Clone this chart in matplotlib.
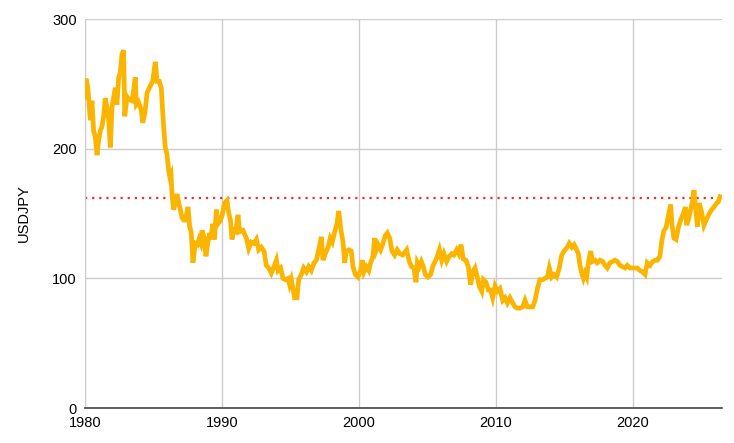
import matplotlib
matplotlib.use("Agg")
import matplotlib.pyplot as plt

# USDJPY (decimal year, rate)
years = [
    1980.0, 1980.07, 1980.2, 1980.39, 1980.51, 1980.63, 1980.75, 1980.88, 1981.0,
    1981.12, 1981.24, 1981.36, 1981.48, 1981.6, 1981.73, 1981.85, 1981.97, 1982.1,
    1982.21, 1982.33, 1982.46, 1982.58, 1982.7, 1982.82, 1982.9, 1983.07, 1983.2,
    1983.43, 1983.55, 1983.67, 1983.75, 1983.9, 1984.11, 1984.21, 1984.38, 1984.53,
    1984.7, 1984.94, 1985.13, 1985.26, 1985.42, 1985.57, 1985.65, 1985.74, 1985.86,
    1985.98, 1986.11, 1986.2, 1986.28, 1986.35, 1986.47, 1986.58, 1986.72, 1986.84,
    1986.96, 1987.08, 1987.2, 1987.32, 1987.52, 1987.64, 1987.76, 1987.88, 1988.05,
    1988.2, 1988.32, 1988.44, 1988.54, 1988.68, 1988.83, 1988.96, 1989.1, 1989.2,
    1989.32, 1989.45, 1989.59, 1989.7, 1989.85, 1990.0, 1990.18, 1990.36, 1990.5,
    1990.62, 1990.73, 1990.85, 1991.0, 1991.17, 1991.29, 1991.53, 1991.78, 1991.95,
    1992.14, 1992.34, 1992.51, 1992.68, 1992.87, 1993.07, 1993.23, 1993.41, 1993.6,
    1993.8, 1993.97, 1994.09, 1994.28, 1994.45, 1994.62, 1994.82, 1994.94, 1995.06,
    1995.18, 1995.3, 1995.47, 1995.6, 1995.79, 1995.96, 1996.16, 1996.33, 1996.52,
    1996.72, 1996.89, 1997.06, 1997.25, 1997.37, 1997.54, 1997.74, 1997.9, 1998.05,
    1998.23, 1998.39, 1998.52, 1998.66, 1998.83, 1998.96, 1999.07, 1999.27, 1999.44,
    1999.56, 1999.73, 1999.93, 2000.12, 2000.24, 2000.36, 2000.53, 2000.71, 2000.85,
    2001.02, 2001.14, 2001.26, 2001.39, 2001.58, 2001.75, 2001.92, 2002.07, 2002.24,
    2002.41, 2002.6, 2002.79, 2002.97, 2003.19, 2003.48, 2003.67, 2003.84, 2004.01,
    2004.16, 2004.26, 2004.4, 2004.55, 2004.7, 2004.84, 2005.04, 2005.23, 2005.38,
    2005.55, 2005.72, 2005.87, 2006.04, 2006.2, 2006.4, 2006.59, 2006.77, 2006.93,
    2007.13, 2007.28, 2007.45, 2007.61, 2007.81, 2007.98, 2008.15, 2008.3, 2008.47,
    2008.64, 2008.78, 2008.96, 2009.08, 2009.27, 2009.44, 2009.61, 2009.76, 2009.93,
    2010.1, 2010.29, 2010.49, 2010.66, 2010.83, 2011.02, 2011.22, 2011.39, 2011.56,
    2011.75, 2011.95, 2012.12, 2012.29, 2012.48, 2012.68, 2012.85, 2013.02, 2013.21,
    2013.41, 2013.58, 2013.75, 2013.89, 2014.06, 2014.23, 2014.43, 2014.62, 2014.8,
    2014.96, 2015.2, 2015.35, 2015.53, 2015.7, 2015.89, 2016.01, 2016.13, 2016.26,
    2016.38, 2016.5, 2016.62, 2016.74, 2016.91, 2017.05, 2017.23, 2017.39, 2017.59,
    2017.79, 2017.96, 2018.12, 2018.32, 2018.52, 2018.69, 2018.85, 2019.05, 2019.24,
    2019.42, 2019.58, 2019.78, 2019.98, 2020.15, 2020.31, 2020.51, 2020.7, 2020.88,
    2021.04, 2021.24, 2021.44, 2021.61, 2021.78, 2021.97, 2022.09, 2022.26, 2022.41,
    2022.58, 2022.75, 2022.85, 2022.99, 2023.14, 2023.31, 2023.48, 2023.68, 2023.82,
    2023.92, 2024.07, 2024.21, 2024.36, 2024.45, 2024.58, 2024.7, 2024.84, 2025.01,
    2025.18, 2025.38, 2025.57, 2025.74, 2025.91, 2026.11, 2026.23, 2026.35,
]
usdjpy = [
    240, 254, 248, 222, 237, 214, 209, 195, 207,
    214, 217, 225, 239, 232, 222, 201, 232, 240,
    247, 234, 255, 259, 273, 276, 225, 240, 238,
    237, 245, 255, 234, 236, 230, 220, 228, 243,
    247, 252, 267, 252, 252, 247, 232, 217, 201,
    196, 183, 178, 180, 165, 153, 158, 165, 158,
    153, 147, 145, 145, 155, 140, 135, 112, 127,
    126, 130, 127, 137, 132, 117, 127, 135, 130,
    142, 130, 153, 142, 144, 148, 158, 160, 150,
    145, 130, 137, 136, 149, 136, 137, 131, 123,
    128, 127, 130, 122, 124, 121, 110, 108, 104,
    109, 114, 106, 108, 100, 99, 100, 95, 99,
    92, 85, 85, 99, 103, 108, 105, 109, 106,
    112, 114, 122, 132, 114, 119, 124, 131, 128,
    136, 142, 152, 139, 128, 112, 121, 122, 121,
    109, 103, 101, 106, 114, 105, 109, 106, 112,
    117, 131, 122, 126, 122, 127, 133, 135, 131,
    121, 118, 122, 119, 118, 122, 113, 109, 108,
    97, 112, 109, 113, 109, 103, 101, 103, 109,
    113, 117, 122, 114, 119, 113, 117, 119, 118,
    122, 119, 126, 115, 114, 109, 95, 105, 108,
    101, 94, 90, 99, 97, 91, 91, 85, 94,
    90, 92, 83, 85, 81, 85, 81, 78, 77,
    77, 78, 83, 78, 78, 78, 83, 92, 99,
    99, 100, 101, 108, 101, 103, 101, 108, 118,
    121, 124, 127, 124, 126, 122, 119, 110, 104,
    100, 104, 101, 112, 121, 113, 114, 112, 114,
    113, 110, 108, 112, 113, 114, 113, 110, 109,
    108, 110, 108, 108, 108, 108, 106, 105, 103,
    112, 110, 113, 114, 114, 117, 128, 137, 139,
    148, 157, 141, 131, 130, 139, 145, 150, 155,
    141, 146, 153, 160, 168, 153, 140, 158, 151,
    141, 146, 150, 153, 155, 158, 159, 163,
]
threshold = 162

fig = plt.figure(figsize=(7.34, 4.43), dpi=100)
ax = fig.add_axes([0.1158, 0.079, 0.8679, 0.878])
plt.rcParams['font.family'] = ['Liberation Sans', 'DejaVu Sans']

ax.plot(years, usdjpy, color='#FBB500', lw=3.4, solid_joinstyle='miter', zorder=3)
ax.axhline(threshold, color='#E8322B', lw=1.6, linestyle=(0, (1, 2.2)), zorder=2)

ax.set_xlim(1980, 2026.5)
ax.set_ylim(0, 300)
ax.set_xticks([1980, 1990, 2000, 2010, 2020])
ax.set_yticks([0, 100, 200, 300])
ax.grid(True, color='#cccccc', lw=1)
ax.set_axisbelow(True)
ax.tick_params(length=0, labelsize=10.5, pad=6)
for lab in ax.get_xticklabels() + ax.get_yticklabels():
    lab.set_family(['Liberation Sans', 'DejaVu Sans'])
ax.set_ylabel('USDJPY', fontsize=10.5, family=['Liberation Sans', 'DejaVu Sans'], labelpad=15)

for s in ['top', 'right']:
    ax.spines[s].set_visible(False)
ax.spines['left'].set_color('#cccccc')
ax.spines['bottom'].set_color('#444444')
ax.spines['bottom'].set_linewidth(1.2)
ax.spines['bottom'].set_zorder(4)

fig.savefig('out.png', dpi=100)
